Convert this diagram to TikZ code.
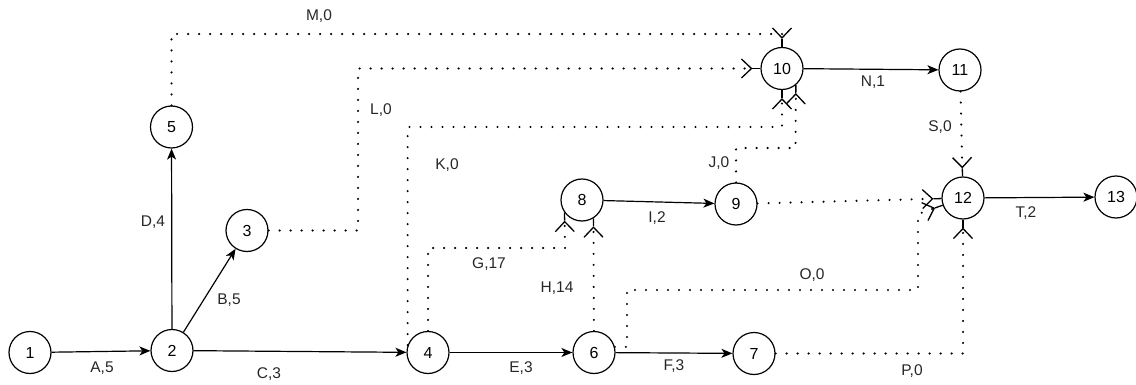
\documentclass[tikz,border=0pt]{standalone}
\usepackage{fontspec}
\setmainfont{Liberation Sans}
\usetikzlibrary{arrows.meta}
\tikzset{
  ev/.style={circle,draw,line width=1.2pt,minimum size=42pt,inner sep=0pt,font=\fontsize{16}{18}\selectfont},
  lbl/.style={inner sep=0pt,font=\fontsize{15.5}{18}\selectfont,text=black!85},
  act/.style={line width=1.2pt,-{Stealth[length=11pt,width=9pt,inset=3pt]}},
  dum/.style={line width=2.3pt,line cap=round,dash pattern=on 0pt off 11pt,
    -{Straight Barb[length=10pt,width=19pt,line width=1.3pt]Rectangle[length=8pt,width=1.3pt,line width=0pt]}}
}
\begin{document}
\begin{tikzpicture}[x=1pt,y=-1pt]
\useasboundingbox (0,0) rectangle (1136,385);
% events
\node[ev] (1) at (30,352.5) {1};
\node[ev] (2) at (172,350.5) {2};
\node[ev] (3) at (247,230.5) {3};
\node[ev] (4) at (428,352.5) {4};
\node[ev] (5) at (171.5,127) {5};
\node[ev] (6) at (594,352.5) {6};
\node[ev] (7) at (754,353.5) {7};
\node[ev] (8) at (582,200) {8};
\node[ev] (9) at (736,204) {9};
\node[ev] (10) at (782,68.5) {10};
\node[ev] (11) at (960,70) {11};
\node[ev] (12) at (963,198) {12};
\node[ev] (13) at (1116,197) {13};
% waypoints
\coordinate (mA) at (171.5,34);
\coordinate (lA) at (358,68.5);
\coordinate (kA) at (782,127);
\coordinate (jA) at (795.5,148);
\coordinate (gA) at (565,248);
\coordinate (oA) at (627,290);
\coordinate (oB) at (918,214);
% real activities
\draw[act] (1) -- (2);
\draw[act] (2) -- (5);
\draw[act] (2) -- (3);
\draw[act] (2) -- (4);
\draw[act] (4) -- (6);
\draw[act] (6) -- (7);
\draw[act] (8) -- (9);
\draw[act] (10) -- (11);
\draw[act] (12) -- (13);
% dummy / dotted activities
\draw[dum] (5) |- (mA) -| (10);
\draw[dum] (3.east) -| (lA) -- (10);
\draw[dum] (4.160) |- (kA) -- (10);
\draw[dum] (9) |- (jA) -- (10.-50);
\draw[dum] (4) |- (gA) -- (8.-144);
\draw[dum] (6) -- (8.-58);
\draw[dum] (9) -- (12);
\draw[dum] (6.15) -| (oA) -| (oB) -- (12);
\draw[dum] (7) -| (12);
\draw[dum] (11) -- (12);
% labels
\node[lbl] (tA) at (102,368) {A,5};
\node[lbl] (tB) at (229,300) {B,5};
\node[lbl] (tC) at (269,374) {C,3};
\node[lbl] (tD) at (153,222) {D,4};
\node[lbl] (tE) at (521,368) {E,3};
\node[lbl] (tF) at (674,366) {F,3};
\node[lbl] (tG) at (489,264) {G,17};
\node[lbl] (tH) at (557,288) {H,14};
\node[lbl] (tI) at (657,218) {I,2};
\node[lbl] (tJ) at (719,163) {J,0};
\node[lbl] (tK) at (447,165) {K,0};
\node[lbl] (tL) at (381,110) {L,0};
\node[lbl] (tM) at (319,16) {M,0};
\node[lbl] (tN) at (873,82) {N,1};
\node[lbl] (tO) at (812,275) {O,0};
\node[lbl] (tP) at (912,371) {P,0};
\node[lbl] (tS) at (940,127) {S,0};
\node[lbl] (tT) at (1026,213) {T,2};
\end{tikzpicture}
\end{document}
